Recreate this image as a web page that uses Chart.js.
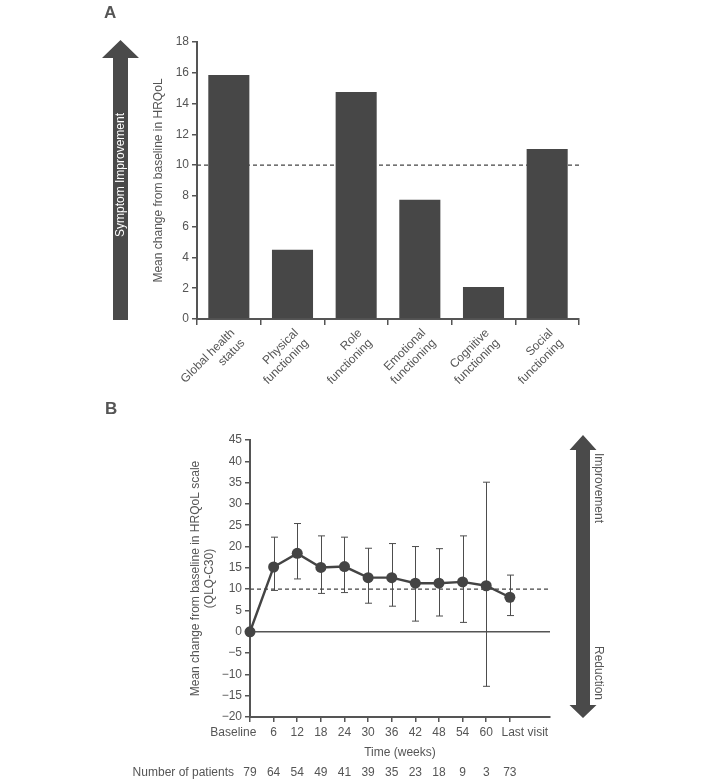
<!DOCTYPE html>
<html><head><meta charset="utf-8">
<script src="https://cdn.jsdelivr.net/npm/chart.js@4.4.1/dist/chart.umd.min.js"></script>
<style>
html,body{margin:0;padding:0;background:#fff;}
#wrap{position:relative;width:705px;height:783px;overflow:hidden;}
canvas{position:absolute;left:0;}
#cA{top:0;} #cB{top:400px;}
</style></head><body>
<div id="wrap">
<canvas id="cA" width="705" height="400"></canvas>
<canvas id="cB" width="705" height="383"></canvas>
</div>
<script>
// ---------- Panel A data ----------
const domains = [["Global health","status"],["Physical","functioning"],["Role","functioning"],["Emotional","functioning"],["Cognitive","functioning"],["Social","functioning"]];
const domainChange = [15.85, 4.5, 14.75, 7.75, 2.08, 11.05];
const thresholdA = 10;

// ---------- Panel B data ----------
const timeLabels = ["Baseline","6","12","18","24","30","36","42","48","54","60","Last visit"];
const meanChange = [0, 15.2, 18.4, 15.1, 15.3, 12.7, 12.7, 11.4, 11.4, 11.7, 10.8, 8.1];
const upperCI = [null, 22.2, 25.4, 22.5, 22.2, 19.6, 20.7, 20.0, 19.5, 22.5, 35.1, 13.3];
const lowerCI = [null, 9.7, 12.4, 9.0, 9.2, 6.7, 6.0, 2.5, 3.7, 2.2, -12.8, 3.8];
const patients = [79, 64, 54, 49, 41, 39, 35, 23, 18, 9, 3, 73];
const thresholdB = 10;

const TXT = '#555555';
const AX = '#555555';
const DARK = '#474747';
Chart.defaults.font.family = "'Liberation Sans', Arial, Helvetica, sans-serif";
Chart.defaults.font.size = 12;
Chart.defaults.color = TXT;

function drawArrowUp(ctx, cx, tipY, headBaseY, bottomY, shaftW, headW, color){
  ctx.save();
  ctx.fillStyle = color;
  ctx.beginPath();
  ctx.moveTo(cx, tipY);
  ctx.lineTo(cx + headW/2, headBaseY);
  ctx.lineTo(cx + shaftW/2, headBaseY);
  ctx.lineTo(cx + shaftW/2, bottomY);
  ctx.lineTo(cx - shaftW/2, bottomY);
  ctx.lineTo(cx - shaftW/2, headBaseY);
  ctx.lineTo(cx - headW/2, headBaseY);
  ctx.closePath();
  ctx.fill();
  ctx.restore();
}

// ---------- Chart A ----------
const pluginA = {
  id: 'decorA',
  beforeDatasetsDraw(chart){
    const {ctx, chartArea, scales} = chart;
    const y = scales.y.getPixelForValue(thresholdA);
    ctx.save();
    ctx.strokeStyle = '#444';
    ctx.lineWidth = 1.3;
    ctx.setLineDash([4, 3]);
    ctx.beginPath();
    ctx.moveTo(chartArea.left, y);
    ctx.lineTo(chartArea.right, y);
    ctx.stroke();
    ctx.restore();
  },
  afterDraw(chart){
    const ctx = chart.ctx;
    drawArrowUp(ctx, 120.5, 40, 58, 320, 15, 37, '#4a4a4a');
    ctx.save();
    ctx.translate(121, 175);
    ctx.rotate(-Math.PI/2);
    ctx.fillStyle = '#ffffff';
    ctx.font = "12px 'Liberation Sans', Arial, sans-serif";
    ctx.textAlign = 'center';
    ctx.textBaseline = 'middle';
    ctx.fillText('Symptom Improvement', 0, 0);
    ctx.restore();
    ctx.save();
    ctx.fillStyle = TXT;
    ctx.font = "bold 17px 'Liberation Sans', Arial, sans-serif";
    ctx.textAlign = 'left';
    ctx.textBaseline = 'alphabetic';
    ctx.fillText('A', 104, 18);
    ctx.restore();
  }
};

new Chart(document.getElementById('cA'), {
  type: 'bar',
  data: {
    labels: domains,
    datasets: [{
      data: domainChange,
      backgroundColor: DARK,
      borderWidth: 0,
      barPercentage: 0.645,
      categoryPercentage: 1.0
    }]
  },
  options: {
    responsive: false,
    animation: false,
    events: [],
    layout: {padding: {left: 147, right: 126, top: 42, bottom: 0}},
    plugins: {legend: {display: false}, tooltip: {enabled: false}},
    scales: {
      x: {
        offset: true,
        grid: {display: true, drawOnChartArea: false, offset: true, tickLength: 6, color: AX, lineWidth: 1.5},
        border: {color: AX, width: 2},
        ticks: {minRotation: 45, maxRotation: 45, autoSkip: false, color: TXT, padding: 1, labelOffset: 4, font: {size: 12}},
        afterFit(s){ s.height = 81; }
      },
      y: {
        min: 0, max: 18,
        ticks: {stepSize: 2, color: TXT, padding: 3, font: {size: 12}},
        grid: {drawOnChartArea: false, tickLength: 5, color: AX, lineWidth: 1.5},
        border: {color: AX, width: 2},
        title: {display: true, text: 'Mean change from baseline in HRQoL', color: TXT, font: {size: 12}},
        afterFit(s){ s.width = 50; }
      }
    }
  },
  plugins: [pluginA]
});

// ---------- Chart B ----------
const tickTextB = timeLabels.map((t, i) => {
  if (i === 0) return t + '          ';
  if (i === timeLabels.length - 1) return '         ' + t;
  return t;
});

const pluginB = {
  id: 'decorB',
  beforeDatasetsDraw(chart){
    const {ctx, chartArea, scales} = chart;
    const xs = scales.x, ys = scales.y;
    ctx.save();
    ctx.strokeStyle = AX;
    ctx.lineWidth = 1.6;
    ctx.beginPath();
    const y0 = ys.getPixelForValue(0);
    ctx.moveTo(chartArea.left, y0);
    ctx.lineTo(chartArea.right, y0);
    ctx.stroke();
    ctx.strokeStyle = '#4d4d4d';
    ctx.lineWidth = 1;
    for (let i = 0; i < meanChange.length; i++) {
      if (upperCI[i] === null || lowerCI[i] === null) continue;
      const x = Math.round(xs.getPixelForValue(i)) + 0.5;
      const yu = ys.getPixelForValue(upperCI[i]);
      const yl = ys.getPixelForValue(lowerCI[i]);
      ctx.beginPath();
      ctx.moveTo(x, yu); ctx.lineTo(x, yl);
      ctx.moveTo(x - 3.5, yu); ctx.lineTo(x + 3.5, yu);
      ctx.moveTo(x - 3.5, yl); ctx.lineTo(x + 3.5, yl);
      ctx.stroke();
    }
    const yt = ys.getPixelForValue(thresholdB);
    ctx.strokeStyle = '#444';
    ctx.lineWidth = 1.3;
    ctx.setLineDash([4, 3]);
    ctx.beginPath();
    ctx.moveTo(chartArea.left, yt);
    ctx.lineTo(chartArea.right, yt);
    ctx.stroke();
    ctx.restore();
  },
  afterDraw(chart){
    const ctx = chart.ctx;
    const xs = chart.scales.x;
    ctx.save();
    ctx.fillStyle = TXT;
    ctx.font = "12px 'Liberation Sans', Arial, sans-serif";
    ctx.textBaseline = 'middle';
    ctx.textAlign = 'right';
    ctx.fillText('Number of patients', 234, 373);
    ctx.textAlign = 'center';
    patients.forEach((n, i) => ctx.fillText(String(n), xs.getPixelForValue(i), 373));
    ctx.restore();
    const cx = 583, sw = 14, hw = 27, top = 35, hb1 = 50, hb2 = 305, bot = 318;
    ctx.save();
    ctx.fillStyle = '#4a4a4a';
    ctx.beginPath();
    ctx.moveTo(cx, top);
    ctx.lineTo(cx + hw/2, hb1);
    ctx.lineTo(cx + sw/2, hb1);
    ctx.lineTo(cx + sw/2, hb2);
    ctx.lineTo(cx + hw/2, hb2);
    ctx.lineTo(cx, bot);
    ctx.lineTo(cx - hw/2, hb2);
    ctx.lineTo(cx - sw/2, hb2);
    ctx.lineTo(cx - sw/2, hb1);
    ctx.lineTo(cx - hw/2, hb1);
    ctx.closePath();
    ctx.fill();
    ctx.restore();
    ctx.save();
    ctx.fillStyle = TXT;
    ctx.font = "12px 'Liberation Sans', Arial, sans-serif";
    ctx.textBaseline = 'middle';
    ctx.translate(598, 53);
    ctx.rotate(Math.PI/2);
    ctx.textAlign = 'left';
    ctx.fillText('Improvement', 0, 0);
    ctx.restore();
    ctx.save();
    ctx.fillStyle = TXT;
    ctx.font = "12px 'Liberation Sans', Arial, sans-serif";
    ctx.textBaseline = 'middle';
    ctx.translate(598, 300);
    ctx.rotate(Math.PI/2);
    ctx.textAlign = 'right';
    ctx.fillText('Reduction', 0, 0);
    ctx.restore();
    ctx.save();
    ctx.fillStyle = TXT;
    ctx.font = "bold 17px 'Liberation Sans', Arial, sans-serif";
    ctx.textBaseline = 'alphabetic';
    ctx.fillText('B', 105, 14);
    ctx.restore();
  }
};

new Chart(document.getElementById('cB'), {
  type: 'line',
  data: {
    datasets: [{
      data: meanChange.map((v, i) => ({x: i, y: v})),
      borderColor: '#444',
      backgroundColor: '#444',
      borderWidth: 2.4,
      pointRadius: 5.5,
      pointBackgroundColor: '#444',
      pointBorderColor: '#444',
      pointBorderWidth: 0,
      tension: 0,
      clip: false
    }]
  },
  options: {
    responsive: false,
    animation: false,
    events: [],
    layout: {padding: {left: 184, right: 155, top: 40, bottom: 19}},
    plugins: {legend: {display: false}, tooltip: {enabled: false}},
    scales: {
      x: {
        type: 'linear', min: 0, max: 12.7,
        afterBuildTicks(s){ s.ticks = timeLabels.map((_, i) => ({value: i})); },
        ticks: {autoSkip: false, maxRotation: 0, minRotation: 0, color: TXT, padding: 3,
          callback: (v) => tickTextB[v] !== undefined ? tickTextB[v] : ''},
        grid: {drawOnChartArea: false, tickLength: 5, color: AX, lineWidth: 1.5},
        border: {color: AX, width: 2},
        title: {display: true, text: 'Time (weeks)', color: TXT, font: {size: 12}, padding: {top: 4, bottom: 4}},
        afterFit(s){ s.height = 47; }
      },
      y: {
        min: -20, max: 45,
        ticks: {stepSize: 5, color: TXT, padding: 3,
          callback: (v) => v < 0 ? '\u2212' + Math.abs(v) : String(v)},
        grid: {drawOnChartArea: false, tickLength: 5, color: AX, lineWidth: 1.5},
        border: {color: AX, width: 2},
        title: {display: true, text: ['Mean change from baseline in HRQoL scale', '(QLQ-C30)'], color: TXT, font: {size: 12}},
        afterFit(s){ s.width = 66; }
      }
    }
  },
  plugins: [pluginB]
});
</script>
</body></html>
